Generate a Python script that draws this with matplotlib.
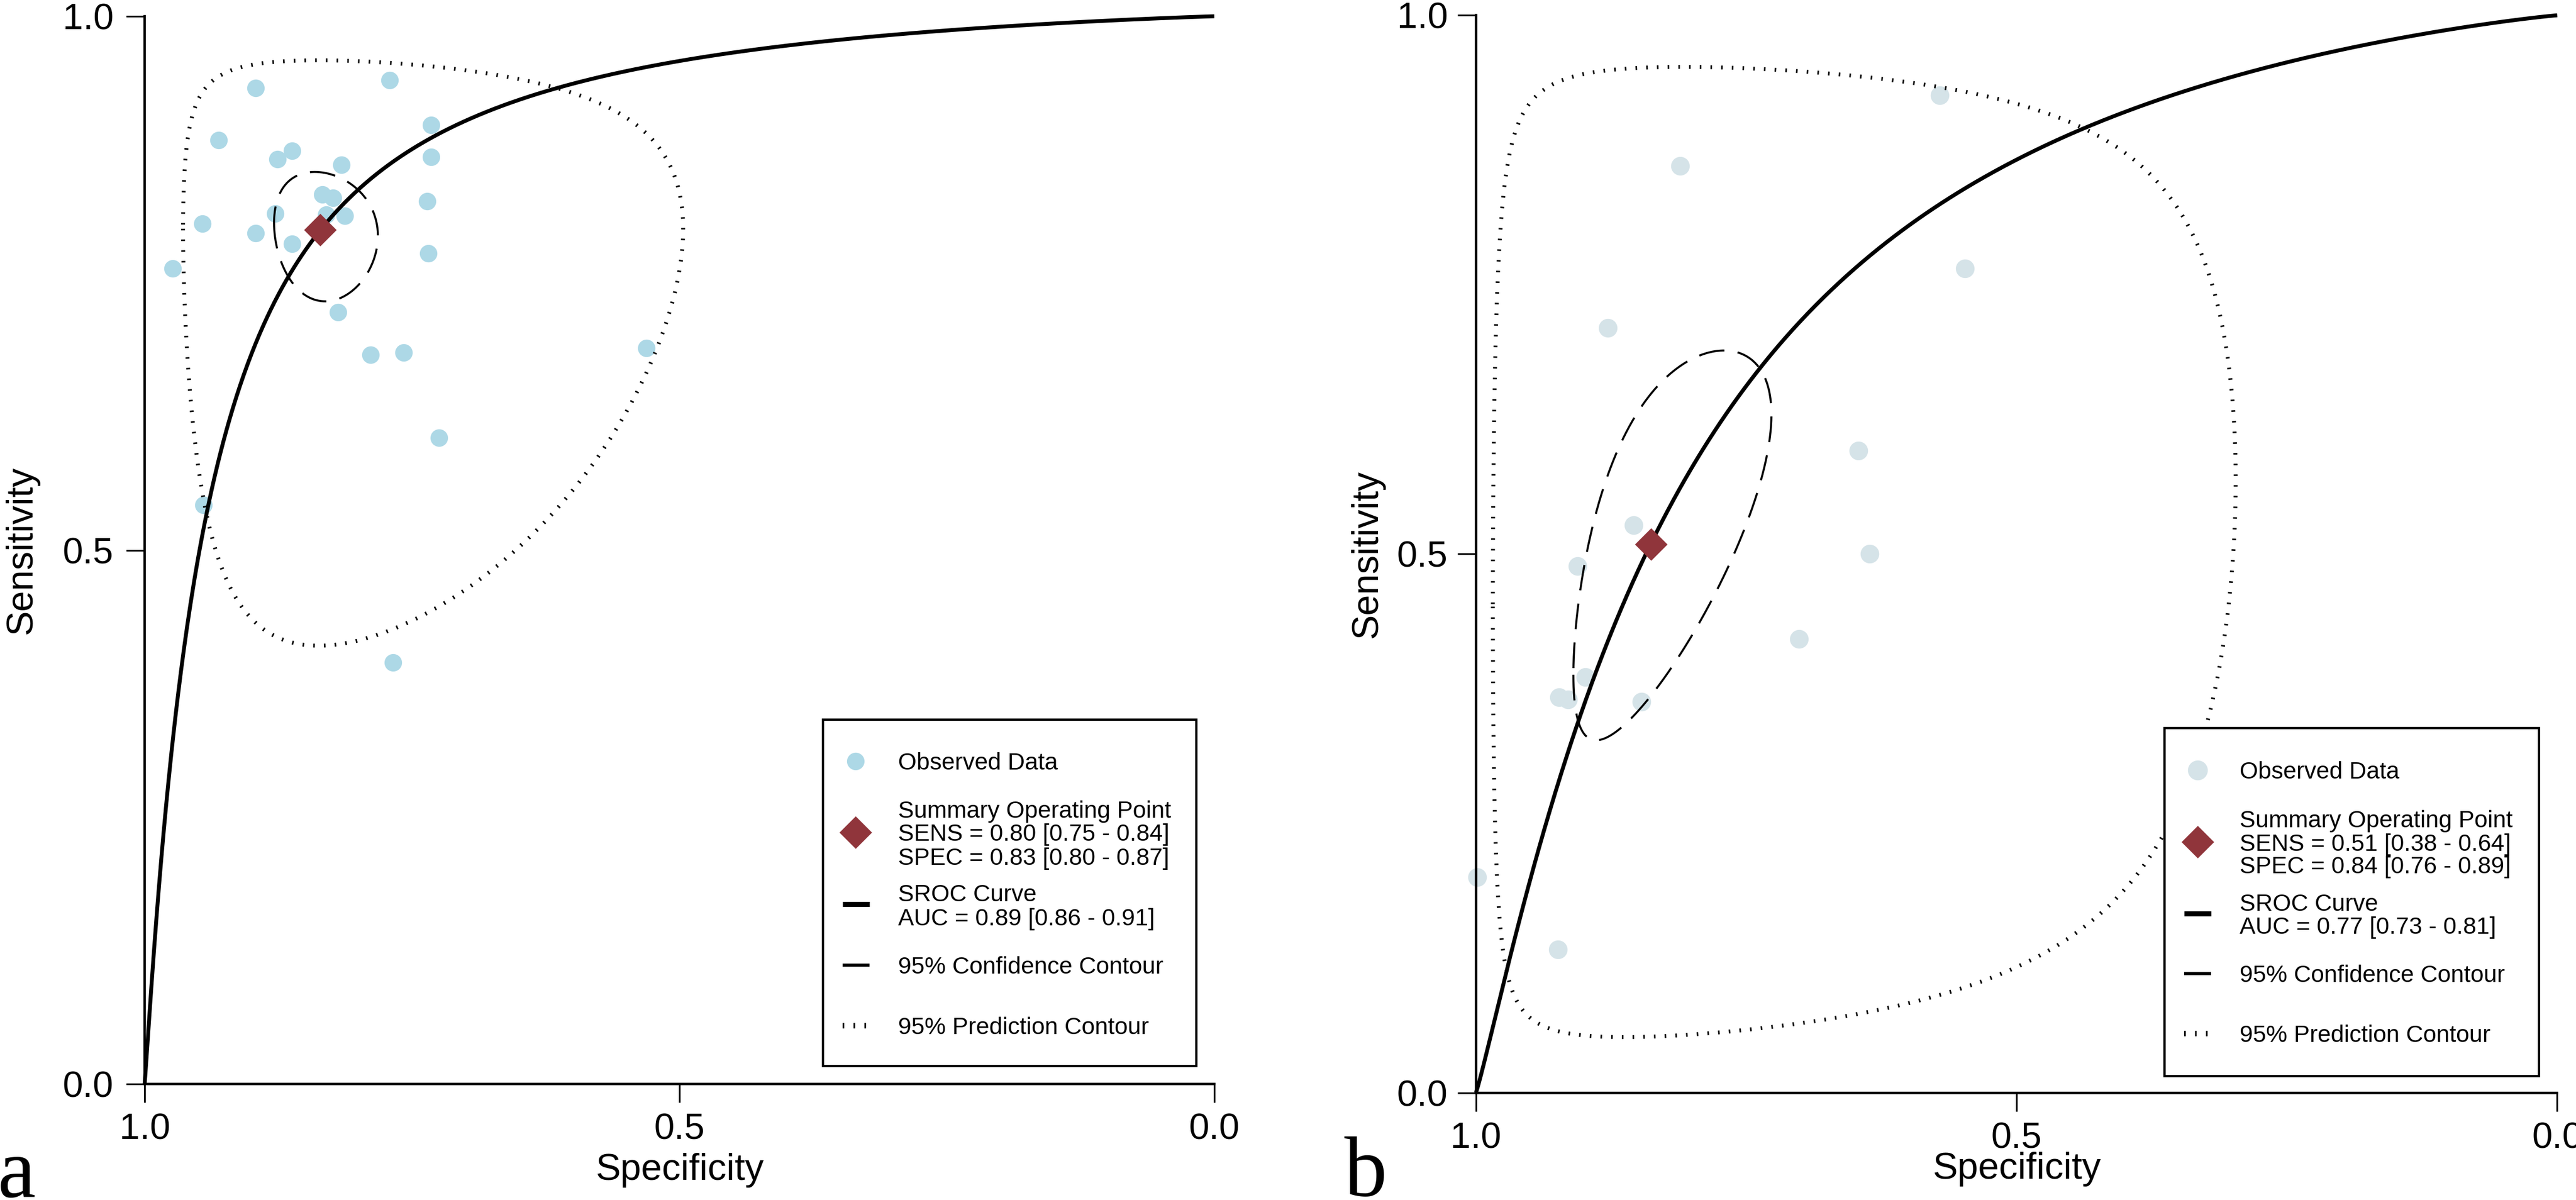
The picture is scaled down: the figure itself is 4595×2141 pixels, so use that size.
import numpy as np
import matplotlib
matplotlib.use("Agg")
import matplotlib.pyplot as plt
from matplotlib.lines import Line2D
from matplotlib.patches import Rectangle

plt.rcParams['font.family'] = ['Liberation Sans', 'DejaVu Sans']

# ---------------- data ----------------
# Panel a observed studies
spec_a = [0.896, 0.771, 0.732, 0.931, 0.862, 0.876, 0.816, 0.732, 0.834, 0.824,
          0.736, 0.878, 0.830, 0.813, 0.946, 0.896, 0.862, 0.735, 0.974, 0.819,
          0.789, 0.758, 0.531, 0.725, 0.945, 0.768]
sens_a = [0.933, 0.940, 0.898, 0.884, 0.874, 0.866, 0.861, 0.868, 0.833, 0.830,
          0.827, 0.815, 0.814, 0.813, 0.806, 0.797, 0.787, 0.778, 0.764, 0.723,
          0.683, 0.685, 0.689, 0.605, 0.542, 0.395]
# Panel b observed studies
spec_b = [0.571, 0.811, 0.548, 0.878, 0.646, 0.854, 0.636, 0.906, 0.701, 0.899,
          0.923, 0.915, 0.847, 0.999, 0.924]
sens_b = [0.926, 0.860, 0.765, 0.710, 0.596, 0.527, 0.500, 0.489, 0.421, 0.386,
          0.367, 0.365, 0.363, 0.200, 0.133]

# Summary operating points (spec, sens) as plotted
summary_a = (0.836, 0.800)
summary_b = (0.838, 0.509)

# Legend statistics
sens_txt_a = ("0.80", "0.75", "0.84"); spec_txt_a = ("0.83", "0.80", "0.87"); auc_txt_a = ("0.89", "0.86", "0.91")
sens_txt_b = ("0.51", "0.38", "0.64"); spec_txt_b = ("0.84", "0.76", "0.89"); auc_txt_b = ("0.77", "0.73", "0.81")

# SROC model: logit(sens) = alpha + beta * logit(1 - spec)
sroc_a = (3.13, 1.073)
sroc_b = (1.866, 1.111)

# Contours in logit space: (mu_logit_spec, half_spec, mu_logit_sens, half_sens, r)
conf_a = (1.630, 0.353, 1.389, 0.379, 0.10)
pred_a = (1.638, 1.652, 1.392, 1.754, 0.00)
conf_b = (1.645, 0.667, 0.037, 0.758, -0.65)
pred_b = (1.640, 2.500, 0.040, 2.950, -0.08)

ticks = [0.0, 0.5, 1.0]
tick_labels = ["0.0", "0.5", "1.0"]

# ---------------- helpers ----------------
def invlogit(x):
    return 1.0 / (1.0 + np.exp(-x))

def logit(p):
    return np.log(p / (1 - p))

def sroc_curve(params):
    a, b = params
    fpr = np.concatenate([[1e-9], np.logspace(-6, -1, 300), np.linspace(0.1, 1 - 1e-9, 500)])
    sens = invlogit(a + b * logit(fpr))
    spec = 1 - fpr
    return np.concatenate([[1.0], spec, [0.0]]), np.concatenate([[0.0], sens, [1.0]])

def contour(params):
    mx, ax_, my, ay, r = params
    t = np.linspace(0, 2 * np.pi, 720)
    lx = mx + ax_ * np.cos(t)
    ly = my + ay * np.cos(t + np.arccos(r))
    return invlogit(lx), invlogit(ly)

W, H = 4595, 2141
fig = plt.figure(figsize=(W / 100, H / 100), dpi=100)

obs_col_a = '#ADD8E6'
obs_col_b = '#D5E3E8'
diam_col = '#90353B'

DASH = (0, (12.7, 6.6))
DOT = (0, (0.4, 2.35))
LEG_DOT = (0, (0.3, 1.7))
SROC_LW = 5.0
LEG_FS = 30.5
CAP = LEG_FS * 100 / 72 * 0.716 / 2   # half cap height in px

panels = [
    dict(rect=[258 / W, 1 - 1934 / H, 1908 / W, 1905 / H],
         spec=spec_a, sens=sens_a, summ=summary_a, sroc=sroc_a, conf=conf_a, pred=pred_a,
         col=obs_col_a, ms=22.5, lms=22.5, st=sens_txt_a, pt=spec_txt_a, at=auc_txt_a,
         box=(1468, 1284, 2134, 1902),
         hx=(1503, 1526, 1551), tx=1602,
         rows=dict(obs=1358, summ=(1444, 1485, 1528), sroc=(1593, 1636), conf=1722, pred=1830),
         hy=dict(obs=1358, summ=1485, sroc=1613, conf=1722, pred=1830),
         ylab_x=(70.5 - 258) / 1908, xlab_y=(1934 - 2057) / 1905, xpad=13, ypad=16,
         letter='a', letter_xy=(-4, 2136)),
    dict(rect=[2632.7 / W, 1 - 1949.7 / H, 1928.8 / W, 1922.4 / H],
         spec=spec_b, sens=sens_b, summ=summary_b, sroc=sroc_b, conf=conf_b, pred=pred_b,
         col=obs_col_b, ms=24, lms=25.5, st=sens_txt_b, pt=spec_txt_b, at=auc_txt_b,
         box=(3861, 1299, 4529, 1920),
         hx=(3896, 3920, 3944), tx=3995,
         rows=dict(obs=1374, summ=(1461, 1503, 1543), sroc=(1610, 1651), conf=1737, pred=1844),
         hy=dict(obs=1374, summ=1502, sroc=1630, conf=1737, pred=1844),
         ylab_x=(2470 - 2632.7) / 1928.8, xlab_y=(1949.7 - 2055) / 1922.4, xpad=13, ypad=12,
         letter='b', letter_xy=(2398, 2134)),
]

def fx(x):
    return x / W

def fy(y):
    return 1 - y / H

for p in panels:
    ax = fig.add_axes(p['rect'])
    ax.set_xlim(1, 0)
    ax.set_ylim(0, 1)
    for s in ['top', 'right']:
        ax.spines[s].set_visible(False)
    for s in ['left', 'bottom']:
        ax.spines[s].set_linewidth(3.2)
    ax.set_xticks(ticks)
    ax.set_xticklabels(tick_labels)
    ax.set_yticks(ticks)
    ax.set_yticklabels(tick_labels)
    ax.tick_params(axis='both', direction='out', length=24, width=2.2, labelsize=47)
    ax.tick_params(axis='x', pad=p['xpad'])
    ax.tick_params(axis='y', pad=p['ypad'])
    ax.set_xlabel('Specificity', fontsize=48)
    ax.set_ylabel('Sensitivity', fontsize=48)
    ax.xaxis.set_label_coords(0.5, p['xlab_y'])
    ax.yaxis.set_label_coords(p['ylab_x'], 0.5)

    # observed data
    ax.plot(p['spec'], p['sens'], 'o', ms=p['ms'], mfc=p['col'], mec='none',
            clip_on=False, zorder=2)
    # prediction contour
    px, py = contour(p['pred'])
    ax.plot(px, py, color='black', lw=5, ls=DOT, dash_capstyle='butt', zorder=3, clip_on=False)
    # confidence contour
    cx, cy = contour(p['conf'])
    ax.plot(cx, cy, color='black', lw=2.6, ls=DASH, dash_capstyle='butt', zorder=3)
    # SROC curve
    sx, sy = sroc_curve(p['sroc'])
    ax.plot(sx, sy, color='black', lw=SROC_LW, zorder=3.2, clip_on=False, solid_capstyle='butt')
    # summary point
    ax.plot([p['summ'][0]], [p['summ'][1]], 'D', ms=29.5, color=diam_col, mec='none', zorder=4)

    # ---------- legend (drawn in figure pixels) ----------
    x0, y0, x1, y1 = p['box']
    fig.add_artist(Rectangle((fx(x0), fy(y1)), (x1 - x0) / W, (y1 - y0) / H,
                             transform=fig.transFigure, facecolor='white', edgecolor='black',
                             lw=3.0, zorder=1))
    hl, hc, hr = p['hx']
    hy = p['hy']
    fig.add_artist(Line2D([fx(hc)], [fy(hy['obs'])], ls='none', marker='o', ms=p['lms'],
                          mfc=p['col'], mec='none', transform=fig.transFigure, zorder=2))
    fig.add_artist(Line2D([fx(hc)], [fy(hy['summ'])], ls='none', marker='D', ms=29.5,
                          mfc=diam_col, mec='none', transform=fig.transFigure, zorder=2))
    fig.add_artist(Line2D([fx(hl), fx(hr)], [fy(hy['sroc'])] * 2, color='black', lw=6.5,
                          solid_capstyle='butt', transform=fig.transFigure, zorder=2))
    fig.add_artist(Line2D([fx(hl), fx(hr)], [fy(hy['conf'])] * 2, color='black', lw=4.0,
                          solid_capstyle='butt', transform=fig.transFigure, zorder=2))
    fig.add_artist(Line2D([fx(hl), fx(hr)], [fy(hy['pred'])] * 2, color='black', lw=7,
                          ls=LEG_DOT, dash_capstyle='butt', transform=fig.transFigure, zorder=2))

    st, pt, at = p['st'], p['pt'], p['at']
    rows = p['rows']
    lines = [(rows['obs'], 'Observed Data'),
             (rows['summ'][0], 'Summary Operating Point'),
             (rows['summ'][1], 'SENS = %s [%s - %s]' % st),
             (rows['summ'][2], 'SPEC = %s [%s - %s]' % pt),
             (rows['sroc'][0], 'SROC Curve'),
             (rows['sroc'][1], 'AUC = %s [%s - %s]' % at),
             (rows['conf'], '95% Confidence Contour'),
             (rows['pred'], '95% Prediction Contour')]
    for yc, s in lines:
        fig.text(fx(p['tx']), fy(yc + CAP), s, fontsize=LEG_FS, ha='left', va='baseline', zorder=3)

    # panel letter
    lx_, ly_ = p['letter_xy']
    fig.text(fx(lx_), fy(ly_), p['letter'], fontsize=110,
             family=['Liberation Serif', 'DejaVu Serif'], ha='left', va='baseline')

fig.savefig('out.png', dpi=100)
